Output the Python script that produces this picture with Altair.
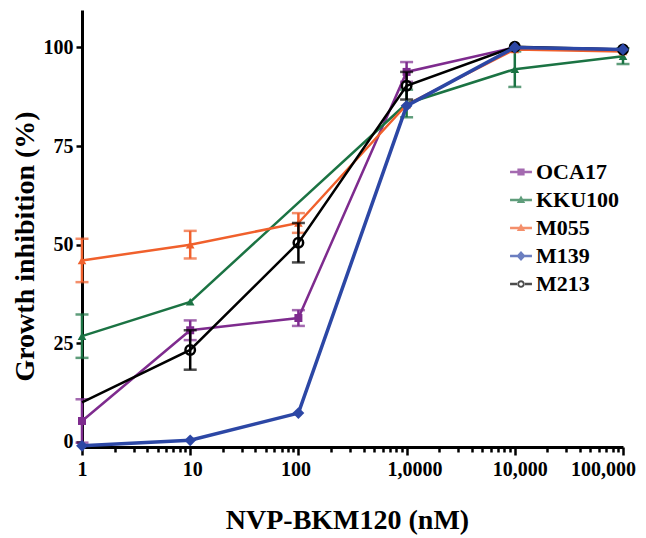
import altair as alt
import pandas as pd

# ---- data ----
doses = [1, 10, 100, 1000, 10000, 100000]
dose_labels = ["1", "10", "100", "1,0000", "10,000", "100,000"]
label_shift = [0, 2, -3, 8, 5, -20]

series = ["OCA17", "KKU100", "M055", "M139", "M213"]
colors = ["#7e2b8e", "#1b7343", "#f0602c", "#2c47a5", "#000000"]

oca17 = [5.3, 28.3, 31.4, 93.8, 100.0, 99.5]
oca17_err = [5.5, 2.5, 2.0, 2.5, 0, 0]
kku100 = [26.8, 35.5, None, 85.8, 94.5, 97.8]
kku100_err = [5.5, 0, 0, 3.5, 4.5, 2.0]
m055 = [46.0, 50.0, 55.5, 85.5, 99.5, 99.0]
m055_err = [5.5, 3.5, 2.5, 0, 0, 0]
m139 = [-1.0, 0.4, 7.3, 85.2, 100.0, 99.5]
m139_err = [0, 0, 0, 0, 0, 0]
m213 = [10.0, 23.3, 50.5, 90.3, 100.2, 99.5]
m213_err = [0, 5.0, 5.0, 3.5, 0, 0]
m213_marker = [False, True, True, True, True, True]

values = [oca17, kku100, m055, m139, m213]
errors = [oca17_err, kku100_err, m055_err, m139_err, m213_err]
markers = [[True] * 6, [True] * 6, [True] * 6, [True] * 6, m213_marker]

rows = []
for name, vals, errs, mk in zip(series, values, errors, markers):
    for d, v, e, m in zip(doses, vals, errs, mk):
        if v is None:
            continue
        rows.append(dict(series=name, dose=d, value=v, lo=v - e, hi=v + e, err=e, marker=m))
df = pd.DataFrame(rows)

# ---- styling ----
FONT = "Liberation Serif"
point_shape = {"OCA17": "square", "KKU100": "triangle-up", "M055": "triangle-up",
               "M139": "diamond", "M213": "circle"}
point_size = {"OCA17": 64, "KKU100": 75, "M055": 75, "M139": 140, "M213": 90}
line_width = {"OCA17": 2.5, "KKU100": 2.5, "M055": 2.5, "M139": 3.5, "M213": 2.5}
draw_order = ["OCA17", "KKU100", "M055", "M213", "M139"]

minor = [m * d for d in doses[:-1] for m in range(2, 10)]
tick_vals = sorted(doses + minor)

label_expr = "''"
for d, lab in zip(doses, dose_labels):
    label_expr = f"datum.value == {d} ? '{lab}' : ({label_expr})"
major_test = "abs(log(datum.value)/LN10 - round(log(datum.value)/LN10)) < 1e-6"

x_scale = alt.Scale(type="log", domain=[1, 100000], nice=False)
y_scale = alt.Scale(domain=[-1.3, 109.5], nice=False, zero=False)

x_axis = alt.Axis(
    values=tick_vals, labelExpr=label_expr, title="NVP-BKM120 (nM)",
    tickSize={"condition": {"test": major_test, "value": 8}, "value": 5},
    labelOffset={"condition": [{"test": f"datum.value == {d}", "value": s}
                               for d, s in zip(doses, label_shift) if s != 0], "value": 0},
    labelPadding=4, titlePadding=27, titleX=265, labelFlush=False,
)
y_axis = alt.Axis(values=[0, 25, 50, 75, 100], title="Growth inhibition (%)",
                  tickSize=6, labelPadding=3, titlePadding=4, titleY=236)

X = alt.X("dose:Q", scale=x_scale, axis=x_axis)
Y = alt.Y("value:Q", scale=y_scale, axis=y_axis)

layers = []
for name in draw_order:
    c = colors[series.index(name)]
    sub = alt.Chart(df).transform_filter(alt.datum.series == name)
    eb = sub.transform_filter(alt.datum.err > 0)
    layers.append(eb.mark_rule(color=c, strokeWidth=2.5).encode(
        x=alt.X("dose:Q", scale=x_scale), y=alt.Y("lo:Q", scale=y_scale), y2="hi:Q"))
    for f in ["lo", "hi"]:
        layers.append(eb.mark_tick(color=c, orient="horizontal", size=13, thickness=2.5).encode(
            x=alt.X("dose:Q", scale=x_scale), y=alt.Y(f"{f}:Q", scale=y_scale)))
    layers.append(sub.mark_line(color=c, strokeWidth=line_width[name]).encode(x=X, y=Y))
    filled = name != "M213"
    layers.append(sub.transform_filter(alt.datum.marker).mark_point(
        shape=point_shape[name], filled=filled, size=point_size[name], color=c,
        strokeWidth=2.5, opacity=1).encode(x=X, y=Y))

# legend symbols: a short line with the series marker
seg = "M-1,-0.11H1V0.11H-1Z"
legend_paths = [
    seg + " M-0.33,-0.33H0.33V0.33H-0.33Z",
    seg + " M0,-0.42L0.38,0.28H-0.38Z",
    seg + " M0,-0.42L0.38,0.28H-0.38Z",
    seg + " M0,-0.45L0.42,0L0,0.45L-0.42,0Z",
    "M-1,-0.11H-0.3V0.11H-1Z M0.3,-0.11H1V0.11H0.3Z "
    "M-0.34,0A0.34,0.34 0 1,0 0.34,0A0.34,0.34 0 1,0 -0.34,0Z "
    "M-0.17,0A0.17,0.17 0 1,1 0.17,0A0.17,0.17 0 1,1 -0.17,0Z",
]
leg = dict(title=None, orient="none", legendX=428, legendY=151)
# the legend layer's own marks are placed outside the plot and clipped away
legend_layer = alt.Chart(df).mark_point(filled=True, clip=True).encode(
    x=alt.value(-60), y=alt.value(-60),
    color=alt.Color("series:N", scale=alt.Scale(domain=series, range=colors),
                    legend=alt.Legend(**leg)),
    shape=alt.Shape("series:N", scale=alt.Scale(domain=series, range=legend_paths),
                    legend=alt.Legend(**leg)),
)

chart = alt.layer(*layers, legend_layer).properties(
    width=541, height=437,
    autosize=alt.AutoSizeParams(type="none"),
    padding={"left": 74, "top": 2, "right": 15, "bottom": 92},
).configure_view(stroke=None).configure_axis(
    grid=False, domainColor="black", domainWidth=3, tickColor="black", tickWidth=2.5,
    labelFont=FONT, labelFontSize=20, labelFontWeight="bold", labelColor="black",
    titleFont=FONT, titleFontSize=28, titleFontWeight="bold", titleColor="black",
).configure_legend(
    symbolSize=480, symbolStrokeWidth=0,
    labelFont=FONT, labelFontSize=22, labelFontWeight="bold", labelColor="black",
    rowPadding=6, labelOffset=4, labelLimit=300,
)

chart.save("out.html", embed_options={"renderer": "svg", "actions": False})
